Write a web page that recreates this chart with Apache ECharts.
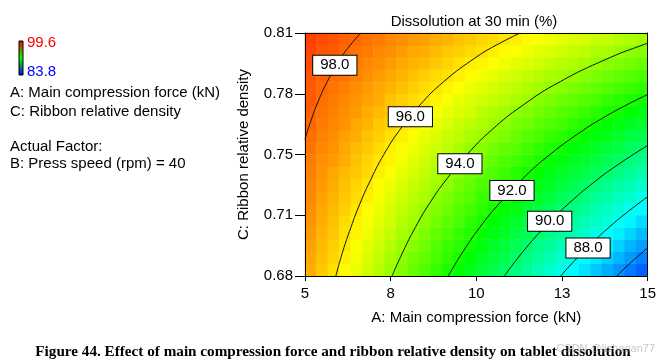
<!DOCTYPE html>
<html><head><meta charset="utf-8">
<script src="https://cdn.jsdelivr.net/npm/echarts@6/dist/echarts.min.js"></script>
<style>html,body{margin:0;padding:0;background:#fff}#c{width:659px;height:363px}</style>
</head><body><div id="c"></div>
<script>
const FONT = '"Liberation Sans", Arial, sans-serif';

// axis ticks (A = main compression force, kN ; C = ribbon relative density)
const xTicks = [5, 7.5, 10, 12.5, 15];
const xTickLabels = ['5', '8', '10', '13', '15'];
const yTicks = [0.68, 0.7125, 0.745, 0.7775, 0.81];
const yTickLabels = ['0.68', '0.71', '0.75', '0.78', '0.81'];

// heatmap cell centres
const cellA = [5.17,5.5,5.83,6.17,6.5,6.83,7.17,7.5,7.83,8.17,8.5,8.83,9.17,9.5,9.83,10.17,10.5,10.83,11.17,11.5,11.83,12.17,12.5,12.83,13.17,13.5,13.83,14.17,14.5,14.83];
const cellC = [0.6833,0.6898,0.6963,0.7028,0.7093,0.7158,0.7223,0.7288,0.7353,0.7418,0.7483,0.7548,0.7613,0.7678,0.7743,0.7808,0.7873,0.7938,0.8003,0.8068];

// dissolution at 30 min (%), one row per C cell (bottom to top), one value per A cell
const dissolution = [
[96.9,96.5,96.1,95.7,95.3,94.9,94.5,94.1,93.7,93.3,92.9,92.5,92.1,91.7,91.3,90.9,90.5,90.1,89.7,89.3,88.9,88.5,88.1,87.7,87.3,86.9,86.5,86.1,85.7,85.3],
[97.0,96.6,96.3,95.9,95.5,95.1,94.7,94.3,93.9,93.5,93.2,92.8,92.4,92.0,91.6,91.2,90.8,90.5,90.1,89.7,89.3,88.9,88.5,88.1,87.7,87.4,87.0,86.6,86.2,85.8],
[97.1,96.7,96.4,96.0,95.6,95.2,94.9,94.5,94.1,93.8,93.4,93.0,92.6,92.3,91.9,91.5,91.1,90.8,90.4,90.0,89.6,89.3,88.9,88.5,88.1,87.8,87.4,87.0,86.6,86.3],
[97.2,96.8,96.5,96.1,95.8,95.4,95.0,94.7,94.3,94.0,93.6,93.2,92.9,92.5,92.2,91.8,91.4,91.1,90.7,90.4,90.0,89.6,89.3,88.9,88.6,88.2,87.8,87.5,87.1,86.7],
[97.3,96.9,96.6,96.2,95.9,95.5,95.2,94.9,94.5,94.2,93.8,93.5,93.1,92.8,92.4,92.1,91.7,91.4,91.0,90.7,90.3,90.0,89.6,89.3,88.9,88.6,88.3,87.9,87.6,87.2],
[97.4,97.0,96.7,96.4,96.0,95.7,95.4,95.0,94.7,94.4,94.0,93.7,93.4,93.0,92.7,92.4,92.0,91.7,91.4,91.0,90.7,90.4,90.0,89.7,89.4,89.0,88.7,88.4,88.0,87.7],
[97.5,97.1,96.8,96.5,96.2,95.9,95.5,95.2,94.9,94.6,94.3,93.9,93.6,93.3,93.0,92.6,92.3,92.0,91.7,91.4,91.0,90.7,90.4,90.1,89.8,89.4,89.1,88.8,88.5,88.1],
[97.5,97.2,96.9,96.6,96.3,96.0,95.7,95.4,95.1,94.8,94.5,94.2,93.9,93.5,93.2,92.9,92.6,92.3,92.0,91.7,91.4,91.1,90.8,90.5,90.2,89.9,89.5,89.2,88.9,88.6],
[97.6,97.3,97.0,96.7,96.5,96.2,95.9,95.6,95.3,95.0,94.7,94.4,94.1,93.8,93.5,93.2,92.9,92.6,92.3,92.0,91.7,91.4,91.1,90.9,90.6,90.3,90.0,89.7,89.4,89.1],
[97.7,97.4,97.2,96.9,96.6,96.3,96.0,95.8,95.5,95.2,94.9,94.6,94.3,94.1,93.8,93.5,93.2,92.9,92.7,92.4,92.1,91.8,91.5,91.2,91.0,90.7,90.4,90.1,89.8,89.6],
[97.8,97.5,97.3,97.0,96.7,96.5,96.2,95.9,95.7,95.4,95.1,94.9,94.6,94.3,94.0,93.8,93.5,93.2,93.0,92.7,92.4,92.2,91.9,91.6,91.4,91.1,90.8,90.6,90.3,90.0],
[97.9,97.6,97.4,97.1,96.9,96.6,96.4,96.1,95.9,95.6,95.3,95.1,94.8,94.6,94.3,94.1,93.8,93.6,93.3,93.0,92.8,92.5,92.3,92.0,91.8,91.5,91.3,91.0,90.7,90.5],
[98.0,97.7,97.5,97.3,97.0,96.8,96.5,96.3,96.0,95.8,95.6,95.3,95.1,94.8,94.6,94.4,94.1,93.9,93.6,93.4,93.1,92.9,92.7,92.4,92.2,91.9,91.7,91.4,91.2,91.0],
[98.1,97.8,97.6,97.4,97.2,96.9,96.7,96.5,96.2,96.0,95.8,95.6,95.3,95.1,94.9,94.6,94.4,94.2,93.9,93.7,93.5,93.3,93.0,92.8,92.6,92.3,92.1,91.9,91.7,91.4],
[98.2,97.9,97.7,97.5,97.3,97.1,96.9,96.6,96.4,96.2,96.0,95.8,95.6,95.3,95.1,94.9,94.7,94.5,94.3,94.1,93.8,93.6,93.4,93.2,93.0,92.8,92.5,92.3,92.1,91.9],
[98.2,98.0,97.8,97.6,97.4,97.2,97.0,96.8,96.6,96.4,96.2,96.0,95.8,95.6,95.4,95.2,95.0,94.8,94.6,94.4,94.2,94.0,93.8,93.6,93.4,93.2,93.0,92.8,92.6,92.4],
[98.3,98.1,97.9,97.8,97.6,97.4,97.2,97.0,96.8,96.6,96.4,96.2,96.1,95.9,95.7,95.5,95.3,95.1,94.9,94.7,94.5,94.3,94.2,94.0,93.8,93.6,93.4,93.2,93.0,92.8],
[98.4,98.2,98.1,97.9,97.7,97.5,97.4,97.2,97.0,96.8,96.7,96.5,96.3,96.1,95.9,95.8,95.6,95.4,95.2,95.1,94.9,94.7,94.5,94.4,94.2,94.0,93.8,93.7,93.5,93.3],
[98.5,98.3,98.2,98.0,97.8,97.7,97.5,97.4,97.2,97.0,96.9,96.7,96.5,96.4,96.2,96.1,95.9,95.7,95.6,95.4,95.2,95.1,94.9,94.7,94.6,94.4,94.3,94.1,93.9,93.8],
[98.6,98.4,98.3,98.1,98.0,97.8,97.7,97.5,97.4,97.2,97.1,96.9,96.8,96.6,96.5,96.3,96.2,96.0,95.9,95.7,95.6,95.4,95.3,95.1,95.0,94.8,94.7,94.5,94.4,94.2]
];

// contour lines, [A, C] points
const contour98 = [[5,0.7531],[5.08,0.758],[5.20,0.7645],[5.33,0.771],[5.65,0.784],[6.06,0.797],[6.32,0.8035],[6.63,0.81]];
const contour96 = [[5.90,0.68],[6.10,0.693],[6.34,0.706],[6.61,0.719],[6.93,0.732],[7.30,0.745],[7.76,0.758],[8.33,0.771],[9.05,0.784],[9.99,0.797],[10.58,0.8035],[11.28,0.81]];
const contour94 = [[7.54,0.68],[7.86,0.693],[8.22,0.706],[8.64,0.719],[9.14,0.732],[9.73,0.745],[10.44,0.758],[11.33,0.771],[12.45,0.784],[13.92,0.797],[14.84,0.8035],[15,0.8045]];
const contour92 = [[9.18,0.68],[9.61,0.693],[10.10,0.706],[10.68,0.719],[11.35,0.732],[12.15,0.745],[13.12,0.758],[13.69,0.7645],[14.33,0.771],[15,0.7771]];
const contour90 = [[10.82,0.68],[11.36,0.693],[11.99,0.706],[12.71,0.719],[13.56,0.732],[14.05,0.7385],[14.58,0.745],[15,0.7498]];
const contour88 = [[12.46,0.68],[12.78,0.6865],[13.12,0.693],[13.48,0.6995],[13.87,0.706],[14.29,0.7125],[14.75,0.719],[15,0.7224]];
const contour86 = [[14.10,0.68],[14.47,0.6865],[14.87,0.693],[15,0.6951]];
const contours = [contour98, contour96, contour94, contour92, contour90, contour88, contour86];

// contour labels
const labelA = [5.87, 8.075, 9.52, 11.04, 12.14, 13.26];
const labelC = [0.7927, 0.7652, 0.7401, 0.7257, 0.7093, 0.695];
const labelText = ['98.0', '96.0', '94.0', '92.0', '90.0', '88.0'];

const colorMin = 83.8, colorMax = 99.6;

const heatData = [];
dissolution.forEach((row, j) => row.forEach((v, i) => heatData.push([i, j, v])));

const chart = echarts.init(document.getElementById('c'), null, {renderer: 'canvas'});
const black = '#000';
const tickFmt = (ticks, labels) => (v) => {
  const k = ticks.findIndex(t => Math.abs(t - v) < 1e-6);
  return k >= 0 ? labels[k] : '';
};

const series = [{
  type: 'heatmap', xAxisIndex: 0, yAxisIndex: 0, data: heatData,
  progressive: 0, silent: true, z: 1, emphasis: {disabled: true}
}];
contours.forEach(c => series.push({
  type: 'line', xAxisIndex: 1, yAxisIndex: 1, data: c, smooth: true,
  showSymbol: false, silent: true, z: 3,
  lineStyle: {color: '#111', width: 1}
}));
series.push({
  type: 'scatter', xAxisIndex: 1, yAxisIndex: 1, z: 5, silent: true,
  symbolSize: 1, itemStyle: {color: 'rgba(0,0,0,0)', opacity: 1},
  data: labelA.map((a, k) => [a, labelC[k], labelText[k]]),
  label: {
    show: true, position: 'inside', formatter: p => p.data[2],
    fontFamily: FONT, fontSize: 15, color: black, backgroundColor: '#fff',
    borderColor: black, borderWidth: 1, padding: [2, 7, 2, 7], lineHeight: 15, opacity: 1
  }
});

chart.setOption({
  animation: false,
  backgroundColor: '#fff',
  textStyle: {fontFamily: FONT},
  grid: {left: 305, right: 7, top: 33, bottom: 87, containLabel: false},
  visualMap: {
    type: 'continuous', show: false, min: colorMin, max: colorMax, seriesIndex: 0, dimension: 2,
    inRange: {color: ['#0000ff', '#00ffff', '#00ff00', '#ffff00', '#ff0000']}
  },
  xAxis: [{
    type: 'category', data: cellA, position: 'top', boundaryGap: true, z: 10,
    axisLine: {show: true, lineStyle: {color: black, width: 1}},
    axisTick: {show: false}, axisLabel: {show: false}, splitLine: {show: false}
  }, {
    type: 'value', position: 'bottom', min: 5, max: 15, interval: 2.5, z: 10,
    axisLine: {show: true, onZero: false, lineStyle: {color: black, width: 1}},
    axisTick: {show: true, length: 5, lineStyle: {color: black}},
    axisLabel: {fontSize: 15, color: black, margin: 10, fontFamily: FONT, formatter: tickFmt(xTicks, xTickLabels)},
    splitLine: {show: false},
    name: 'A: Main compression force (kN)', nameLocation: 'middle', nameGap: 34,
    nameTextStyle: {fontSize: 15, color: black, fontFamily: FONT}
  }],
  yAxis: [{
    type: 'category', data: cellC, position: 'right', boundaryGap: true, z: 10,
    axisLine: {show: true, lineStyle: {color: black, width: 1}},
    axisTick: {show: false}, axisLabel: {show: false}, splitLine: {show: false}
  }, {
    type: 'value', position: 'left', min: 0.68, max: 0.81, z: 10,
    axisLine: {show: true, onZero: false, lineStyle: {color: black, width: 1}},
    axisTick: {show: true, length: 10, lineStyle: {color: black}, customValues: yTicks},
    axisLabel: {fontSize: 15, color: black, margin: 12, fontFamily: FONT, customValues: yTicks, formatter: tickFmt(yTicks, yTickLabels)},
    splitLine: {show: false},
    name: 'C: Ribbon relative density', nameLocation: 'middle', nameGap: 54,
    nameTextStyle: {fontSize: 15, color: black, fontFamily: FONT}
  }],
  graphic: [
    {type: 'text', x: 474, y: 22, style: {text: 'Dissolution at 30 min (%)', font: '15px ' + FONT, fill: black, align: 'center', verticalAlign: 'middle'}},
    {type: 'rect', shape: {x: 19, y: 41, width: 4, height: 34},
      style: {fill: new echarts.graphic.LinearGradient(0, 0, 0, 1, [{offset: 0, color: '#ff0000'}, {offset: 0.5, color: '#00ff00'}, {offset: 1, color: '#0000ff'}]), stroke: black, lineWidth: 1}},
    {type: 'text', x: 27, y: 43, style: {text: String(colorMax), font: '15px ' + FONT, fill: '#ff0000', align: 'left', verticalAlign: 'middle'}},
    {type: 'text', x: 27, y: 72, style: {text: String(colorMin), font: '15px ' + FONT, fill: '#0000ff', align: 'left', verticalAlign: 'middle'}},
    {type: 'text', x: 10, y: 93, style: {text: 'A: Main compression force (kN)', font: '15px ' + FONT, fill: black, align: 'left', verticalAlign: 'middle'}},
    {type: 'text', x: 10, y: 112, style: {text: 'C: Ribbon relative density', font: '15px ' + FONT, fill: black, align: 'left', verticalAlign: 'middle'}},
    {type: 'text', x: 10, y: 147, style: {text: 'Actual Factor:', font: '15px ' + FONT, fill: black, align: 'left', verticalAlign: 'middle'}},
    {type: 'text', x: 10, y: 164, style: {text: 'B: Press speed (rpm) = 40', font: '15px ' + FONT, fill: black, align: 'left', verticalAlign: 'middle'}},
    {type: 'text', x: 333, y: 352, style: {text: 'Figure 44. Effect of main compression force and ribbon relative density on tablet dissolution', font: 'bold 15.2px "Liberation Serif", "Times New Roman", serif', fill: black, align: 'center', verticalAlign: 'middle'}},
    {type: 'text', x: 655, y: 349, z: 100, style: {text: 'CSDN @lishaoan77', font: '11px ' + FONT, fill: 'rgba(150,150,150,0.55)', align: 'right', verticalAlign: 'middle'}}
  ],
  series: series
});
</script>
</body></html>
